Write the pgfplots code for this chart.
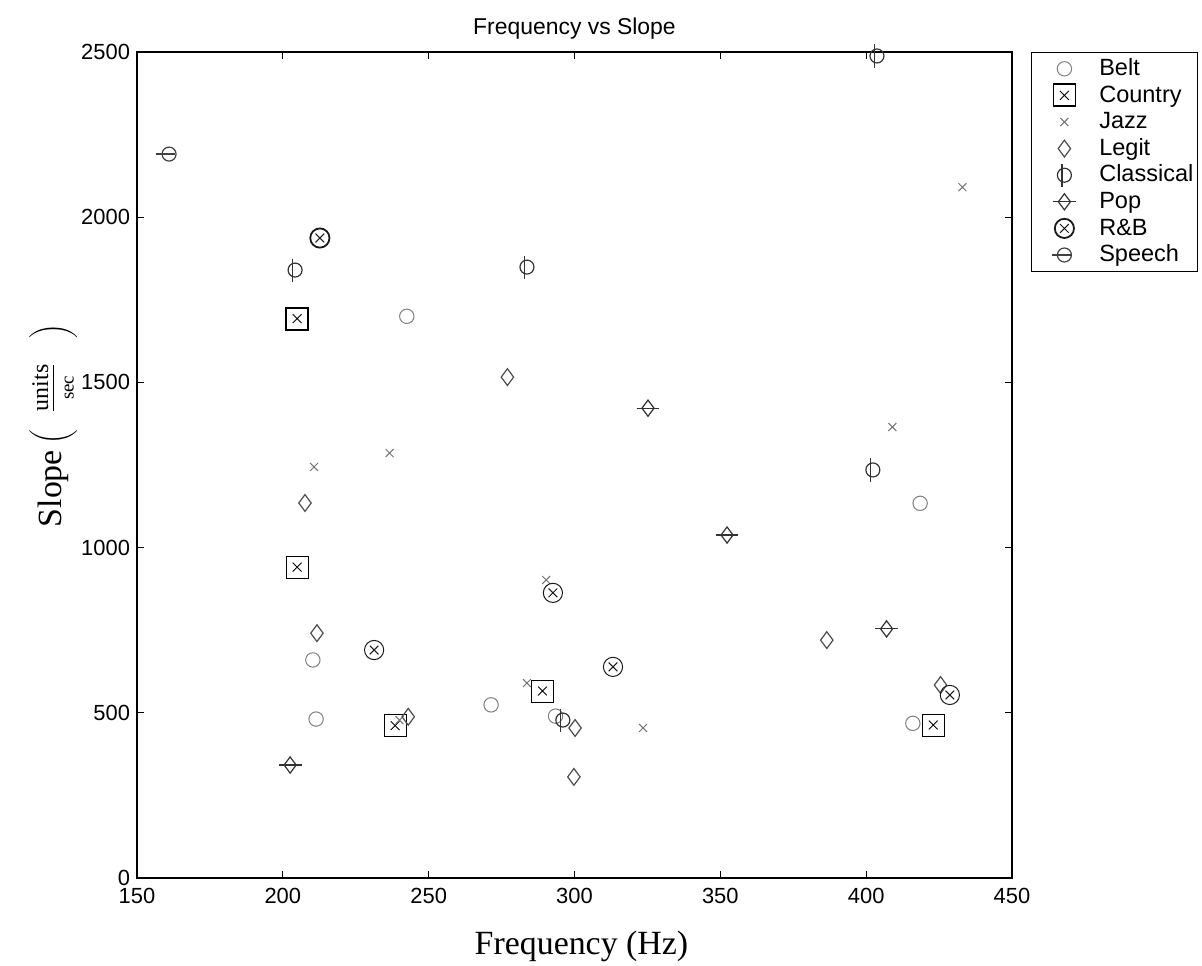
\documentclass[border=0pt]{standalone}
\usepackage{pgfplots}
\pgfplotsset{compat=1.18}
\usepackage{fontspec}
\setmainfont{Liberation Serif}
\newfontfamily\arial{Liberation Sans}

\pgfdeclareplotmark{boxx}{%
  \pgfpathrectangle{\pgfqpoint{-\pgfplotmarksize}{-\pgfplotmarksize}}{\pgfqpoint{2\pgfplotmarksize}{2\pgfplotmarksize}}%
  \pgfusepathqstroke
  \pgfsetlinewidth{0.45bp}%
  \pgfpathmoveto{\pgfqpoint{-0.4\pgfplotmarksize}{-0.4\pgfplotmarksize}}\pgfpathlineto{\pgfqpoint{0.4\pgfplotmarksize}{0.4\pgfplotmarksize}}%
  \pgfpathmoveto{\pgfqpoint{-0.4\pgfplotmarksize}{0.4\pgfplotmarksize}}\pgfpathlineto{\pgfqpoint{0.4\pgfplotmarksize}{-0.4\pgfplotmarksize}}%
  \pgfusepathqstroke}
\pgfdeclareplotmark{cx}{%
  \pgfpathcircle{\pgfpointorigin}{\pgfplotmarksize}\pgfusepathqstroke
  \pgfsetlinewidth{0.5bp}%
  \pgfpathmoveto{\pgfqpoint{-0.45\pgfplotmarksize}{-0.45\pgfplotmarksize}}\pgfpathlineto{\pgfqpoint{0.45\pgfplotmarksize}{0.45\pgfplotmarksize}}%
  \pgfpathmoveto{\pgfqpoint{-0.45\pgfplotmarksize}{0.45\pgfplotmarksize}}\pgfpathlineto{\pgfqpoint{0.45\pgfplotmarksize}{-0.45\pgfplotmarksize}}%
  \pgfusepathqstroke}
\pgfdeclareplotmark{dmd}{%
  \pgfpathmoveto{\pgfqpoint{0pt}{1.35\pgfplotmarksize}}%
  \pgfpathlineto{\pgfqpoint{\pgfplotmarksize}{0pt}}%
  \pgfpathlineto{\pgfqpoint{0pt}{-1.35\pgfplotmarksize}}%
  \pgfpathlineto{\pgfqpoint{-\pgfplotmarksize}{0pt}}%
  \pgfpathclose\pgfusepathqstroke}
\pgfdeclareplotmark{hdmd}{%
  \pgfpathmoveto{\pgfqpoint{0pt}{1.35\pgfplotmarksize}}%
  \pgfpathlineto{\pgfqpoint{\pgfplotmarksize}{0pt}}%
  \pgfpathlineto{\pgfqpoint{0pt}{-1.35\pgfplotmarksize}}%
  \pgfpathlineto{\pgfqpoint{-\pgfplotmarksize}{0pt}}%
  \pgfpathclose\pgfusepathqstroke
  \pgfpathmoveto{\pgfqpoint{-1.9\pgfplotmarksize}{0pt}}\pgfpathlineto{\pgfqpoint{1.9\pgfplotmarksize}{0pt}}%
  \pgfusepathqstroke}
\pgfdeclareplotmark{vcirc}{%
  \pgfpathcircle{\pgfpointorigin}{\pgfplotmarksize}\pgfusepathqstroke
  \pgfpathmoveto{\pgfqpoint{-0.35\pgfplotmarksize}{-1.65\pgfplotmarksize}}\pgfpathlineto{\pgfqpoint{-0.35\pgfplotmarksize}{1.65\pgfplotmarksize}}%
  \pgfusepathqstroke}
\pgfdeclareplotmark{hcirc}{%
  \pgfpathcircle{\pgfpointorigin}{\pgfplotmarksize}\pgfusepathqstroke
  \pgfpathmoveto{\pgfqpoint{-1.8\pgfplotmarksize}{0pt}}\pgfpathlineto{\pgfqpoint{0.9\pgfplotmarksize}{0pt}}%
  \pgfusepathqstroke}

\begin{document}
\begin{tikzpicture}
\useasboundingbox (-68.5bp,-44bp) rectangle (532.5bp,439bp);
\begin{axis}[
  scale only axis, width=437.5bp, height=413bp,
  xmin=150, xmax=450, ymin=0, ymax=2500,
  xtick={150,200,...,450}, ytick={0,500,...,2500},
  tick align=inside, major tick length=3.5bp,
  axis line style={line width=0.6bp},
  tick style={line width=0.5bp, black},
  ticklabel style={font=\arial\fontsize{11}{13}\selectfont},
  xticklabel style={yshift=-1.5bp},
  /pgf/number format/assume math mode=true,
  /pgf/number format/1000 sep={},
  scaled ticks=false,
  title={\arial\fontsize{11.5}{13}\selectfont Frequency vs Slope},
  title style={yshift=-3bp},
  xlabel={Frequency (Hz)},
  ylabel={Slope\hspace{3bp}$\left(\vcenter{\hbox{\rule{0pt}{25bp}}}\hspace{8bp}\frac{\hbox{\fontsize{12}{13}\selectfont units}}{\hbox{\fontsize{9.5}{11}\selectfont sec}}\hspace{12bp}\right)$},
  label style={font=\fontsize{17}{20}\selectfont},
  xlabel style={at={(ticklabel cs:0.508)}, yshift=-7bp},
  ylabel style={at={(ticklabel cs:0.548)}, yshift=-3bp, inner sep=1bp},
  clip=false,
  legend style={at={(1,1)}, anchor=north west, xshift=9.5bp,
    draw=black, line width=0.5bp, inner xsep=1bp, inner ysep=1.5bp,
    font=\arial\fontsize{11.8}{13}\selectfont,
    nodes={inner sep=1bp, text height=9bp, text depth=2.3bp},
    row sep=0bp},
  legend cell align=left,
  legend image code/.code={\path (-15bp,0bp) (16bp,0bp); \draw[#1] plot coordinates {(0bp,0bp)};},
]
\addplot[only marks, mark=o, mark size=3.6bp, black!50, line width=0.5bp] coordinates {
 (242.5,1700) (418.5,1134) (210.3,660) (211.4,481) (271.4,524) (293.5,490) (416,468)};
\addlegendentry{Belt}
\addplot[only marks, mark=boxx, mark size=5.5bp, black, line width=0.9bp] coordinates {
 (204.9,1693) (204.9,941) (238.5,461) (289,566) (423,463)};
\addlegendentry{Country}
\addplot[only marks, mark=x, mark size=2.8bp, black!55, line width=0.5bp] coordinates {
 (210.7,1244) (236.6,1286) (290.3,902) (283.7,590) (323.5,454) (433,2091) (409,1365) (240,478)};
\addlegendentry{Jazz}
\addplot[only marks, mark=dmd, mark size=3.1bp, black!70, line width=0.6bp] coordinates {
 (207.6,1135) (211.7,741) (277,1516) (299.8,306) (386.5,720) (425.5,584) (300.2,454) (243,488)};
\addlegendentry{Legit}
\addplot[only marks, mark=vcirc, mark size=3.5bp, black!80, line width=0.6bp] coordinates {
 (204.2,1840) (283.7,1849) (403.7,2488) (402.3,1235) (296,478)};
\addlegendentry{Classical}
\addplot[only marks, mark=hdmd, mark size=3.0bp, black!80, line width=0.6bp] coordinates {
 (202.5,342) (325.2,1422) (352.3,1038) (407,754)};
\addlegendentry{Pop}
\addplot[only marks, mark=cx, mark size=4.8bp, black!90, line width=0.9bp] coordinates {
 (212.7,1937) (231.3,690) (292.6,863) (313.2,639) (428.7,554)};
\addlegendentry{R\&B}
\addplot[only marks, mark=hcirc, mark size=3.5bp, black!75, line width=0.6bp] coordinates {
 (161,2191)};
\addlegendentry{Speech}
\end{axis}
\end{tikzpicture}
\end{document}
